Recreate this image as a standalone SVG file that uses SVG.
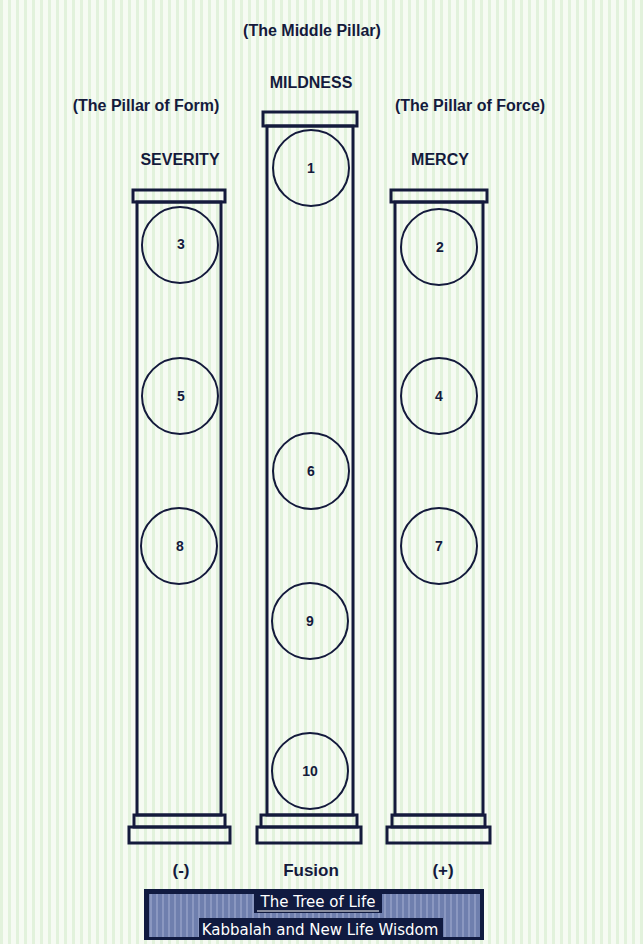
<svg xmlns="http://www.w3.org/2000/svg" width="643" height="944" viewBox="0 0 643 944">
<defs>
<pattern id="bg" width="8" height="8" patternUnits="userSpaceOnUse"><rect width="8" height="8" fill="#f6fbf3"/><rect x="0" width="3" height="8" fill="#e2f2dc"/></pattern>
<pattern id="bn" width="6" height="6" patternUnits="userSpaceOnUse"><rect width="6" height="6" fill="#6f7fae"/><rect width="2" height="6" fill="#8a97c0"/></pattern>
</defs>
<style>
.p{fill:none;stroke:#141a3c;stroke-width:3}
.c{fill:none;stroke:#141a3c;stroke-width:2}
text{font-family:"Liberation Sans",Arial,sans-serif;font-weight:bold;fill:#141a3c;text-anchor:middle}
.l{font-size:16px}
.n{font-size:14px}
.b{fill:#fff;font-family:"DejaVu Sans",sans-serif;font-weight:normal;font-size:15px}
</style>
<rect width="643" height="944" fill="url(#bg)"/>
<g id="labels">
<text class="l" x="312" y="36">(The Middle Pillar)</text>
<text class="l" x="311" y="88">MILDNESS</text>
<text class="l" x="146" y="111">(The Pillar of Form)</text>
<text class="l" x="470" y="111">(The Pillar of Force)</text>
<text class="l" x="180" y="165">SEVERITY</text>
<text class="l" x="440" y="165">MERCY</text>
<text class="l" x="181" y="876" style="font-size:17px">(-)</text>
<text class="l" x="311" y="876" style="font-size:17px">Fusion</text>
<text class="l" x="443" y="876" style="font-size:17px">(+)</text>
</g>
<g id="pillar-left">
<rect class="p" x="133" y="190" width="92" height="12"/>
<rect class="p" x="137" y="202" width="84" height="613"/>
<rect class="p" x="134" y="815" width="91" height="12"/>
<rect class="p" x="129" y="827" width="101" height="16"/>
</g>
<g id="pillar-middle">
<rect class="p" x="263" y="112" width="94" height="14"/>
<rect class="p" x="267" y="126" width="86" height="689"/>
<rect class="p" x="261" y="815" width="96" height="12"/>
<rect class="p" x="257" y="827" width="104" height="16"/>
</g>
<g id="pillar-right">
<rect class="p" x="391" y="190" width="96" height="12"/>
<rect class="p" x="395" y="202" width="88" height="613"/>
<rect class="p" x="392" y="815" width="93" height="12"/>
<rect class="p" x="387" y="827" width="103" height="16"/>
</g>
<g id="s3"><circle class="c" cx="180" cy="245" r="38"/><text class="n" x="181" y="249">3</text></g>
<g id="s5"><circle class="c" cx="180" cy="396" r="38"/><text class="n" x="181" y="401">5</text></g>
<g id="s8"><circle class="c" cx="179" cy="546" r="38"/><text class="n" x="180" y="551">8</text></g>
<g id="s1"><circle class="c" cx="311" cy="168" r="38"/><text class="n" x="311" y="173">1</text></g>
<g id="s6"><circle class="c" cx="311" cy="471" r="38"/><text class="n" x="311" y="476">6</text></g>
<g id="s9"><circle class="c" cx="310" cy="621" r="38"/><text class="n" x="310" y="626">9</text></g>
<g id="s10"><circle class="c" cx="310" cy="771" r="38"/><text class="n" x="310" y="776">10</text></g>
<g id="s2"><circle class="c" cx="439" cy="247" r="38"/><text class="n" x="440" y="252">2</text></g>
<g id="s4"><circle class="c" cx="439" cy="396" r="38"/><text class="n" x="439" y="401">4</text></g>
<g id="s7"><circle class="c" cx="439" cy="546" r="38"/><text class="n" x="439" y="551">7</text></g>
<g id="banner">
<rect x="144" y="889" width="340" height="51" fill="#101a40"/>
<rect x="149" y="894" width="331" height="43" fill="url(#bn)"/>
<rect x="254" y="892" width="128" height="21" fill="#101a40"/>
<rect x="199" y="918" width="244" height="22" fill="#101a40"/>
<text class="b" x="318" y="907">The Tree of Life</text>
<line x1="257" y1="911" x2="379" y2="911" stroke="#fff" stroke-width="1"/>
<text class="b" x="320" y="935">Kabbalah and New Life Wisdom</text>
</g>
</svg>
